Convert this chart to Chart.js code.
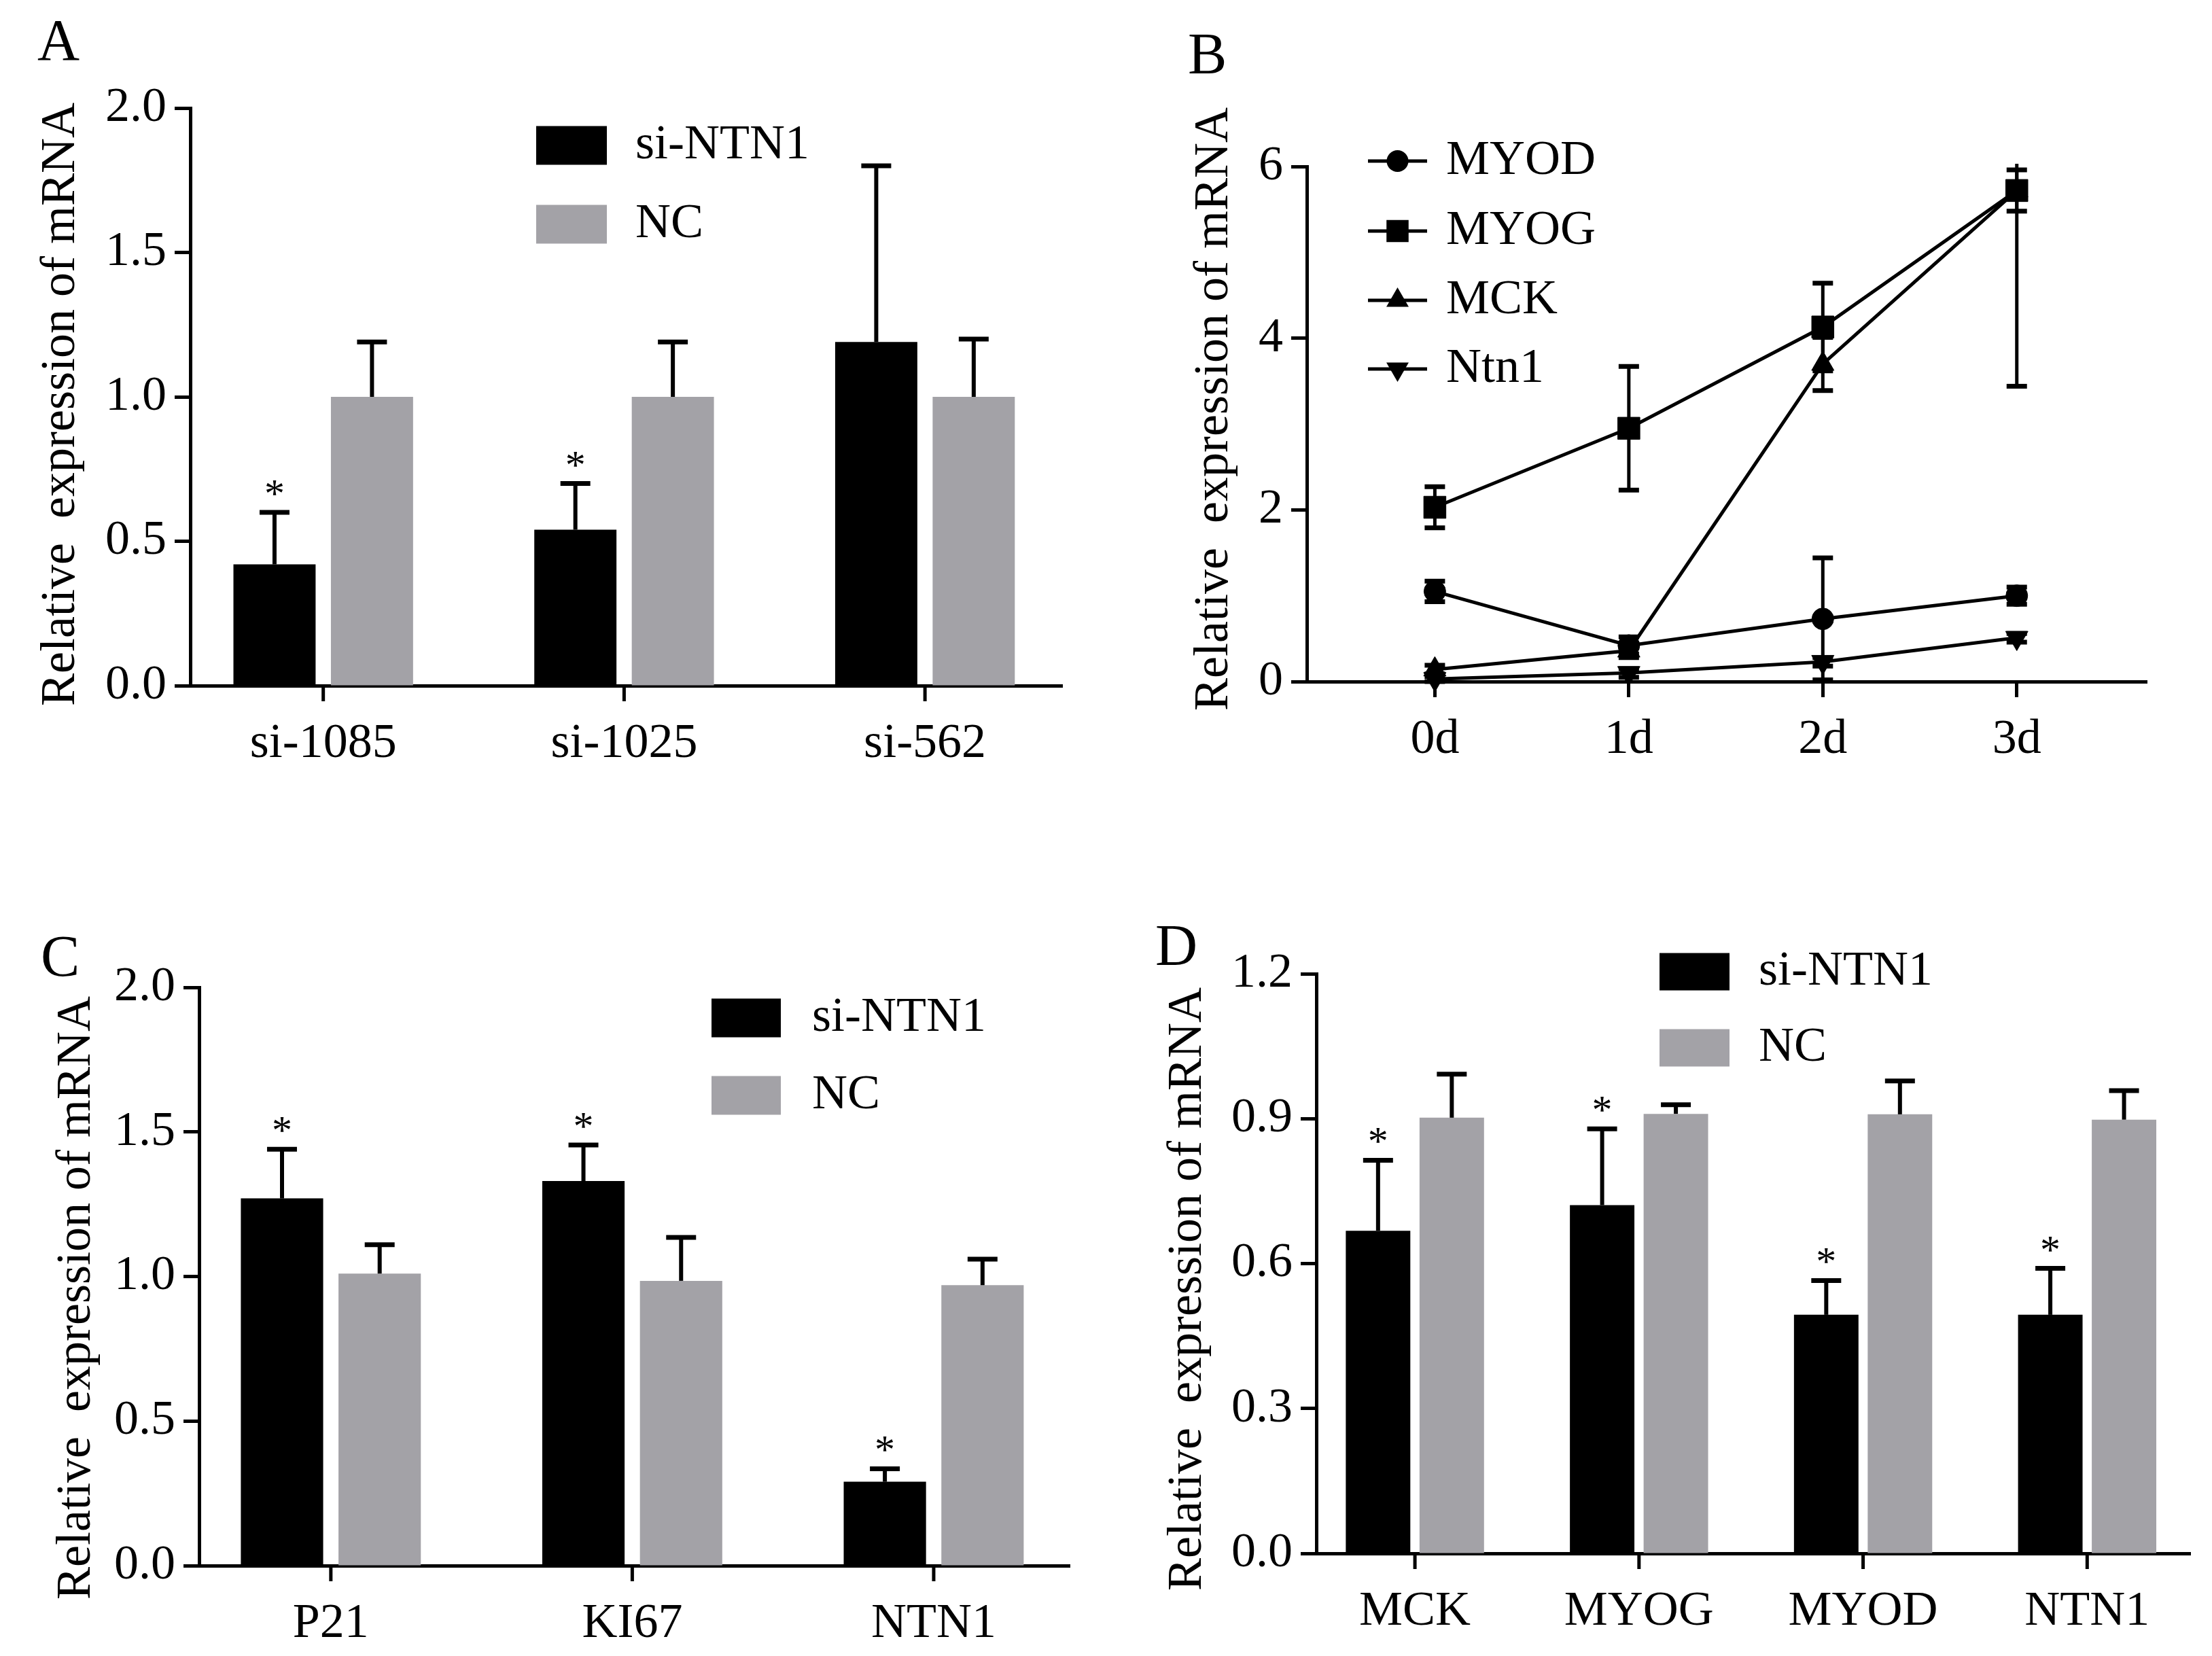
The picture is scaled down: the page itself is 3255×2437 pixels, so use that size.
<!DOCTYPE html>
<html>
<head>
<meta charset="utf-8">
<script src="https://cdn.jsdelivr.net/npm/chart.js@4.4.1/dist/chart.umd.min.js"></script>
<style>
  html, body { margin: 0; padding: 0; background: #fff; }
  body { width: 3255px; height: 2437px; position: relative; overflow: hidden;
         font-family: 'Liberation Serif', 'Times New Roman', serif; }
  .panel { position: absolute; }
  .tag { position: absolute; font-size: 86px; line-height: 86px; color: #000; }
</style>
</head>
<body>
<div class="tag" style="left:55px;top:16px">A</div>
<div class="tag" style="left:1748px;top:36px">B</div>
<div class="tag" style="left:60px;top:1364px">C</div>
<div class="tag" style="left:1700px;top:1348px">D</div>

<div class="panel" id="pA"><canvas id="chartA"></canvas></div>
<div class="panel" id="pB"><canvas id="chartB"></canvas></div>
<div class="panel" id="pC"><canvas id="chartC"></canvas></div>
<div class="panel" id="pD"><canvas id="chartD"></canvas></div>

<script>
// ---- data ----
const yTitle = 'Relative  expression of mRNA';

// A: siRNA screening
const groupsA = ['si-1085', 'si-1025', 'si-562'];
const siA = [0.42, 0.54, 1.19];
const siErrA = [0.18, 0.16, 0.61];
const ncA = [1.00, 1.00, 1.00];
const ncErrA = [0.19, 0.19, 0.20];
const starsA = [true, true, false];
const ticksA = [0, 0.5, 1.0, 1.5, 2.0];

// B: time course
const days = ['0d', '1d', '2d', '3d'];
const myod = [1.05, 0.42, 0.73, 1.00];
const myodErr = [0.12, 0.10, 0.71, 0.10];
const myog = [2.03, 2.95, 4.13, 5.72];
const myogErr = [0.24, 0.72, 0.51, 0.24];
const mck = [0.14, 0.36, 3.70, 5.72];
const mckErr = [0.05, 0.08, 0.31, 2.28];
const ntn1 = [0.03, 0.10, 0.23, 0.51];
const ntn1Err = [0.03, 0.05, 0.05, 0.05];
const ticksB = [0, 2, 4, 6];

// C: proliferation markers
const genesC = ['P21', 'KI67', 'NTN1'];
const siC = [1.27, 1.33, 0.29];
const siErrC = [0.17, 0.125, 0.045];
const ncC = [1.01, 0.985, 0.97];
const ncErrC = [0.10, 0.15, 0.09];
const starsC = [true, true, true];
const ticksC = [0, 0.5, 1.0, 1.5, 2.0];

// D: differentiation markers
const genesD = ['MCK', 'MYOG', 'MYOD', 'NTN1'];
const siD = [0.668, 0.721, 0.494, 0.494];
const siErrD = [0.146, 0.158, 0.071, 0.096];
const ncD = [0.902, 0.910, 0.909, 0.898];
const ncErrD = [0.090, 0.019, 0.069, 0.060];
const starsD = [true, true, true, true];
const ticksD = [0, 0.3, 0.6, 0.9, 1.2];

// ---- look ----
const BLACK = '#000000';
const GREY = '#a3a2a7';
const FONT = 72;
const SERIF = "'Liberation Serif', 'Times New Roman', serif";
const PAD_TOP = 90, PAD_RIGHT = 20;
const TICK_LEN = 23;

Chart.defaults.font.family = SERIF;
Chart.defaults.font.size = FONT;
Chart.defaults.color = BLACK;

// place a panel div so that the plot area lands on the given box
function placePanel(id, area, left, axisH) {
  const el = document.getElementById(id);
  const top = area.t - PAD_TOP;
  el.style.left = left + 'px';
  el.style.top = top + 'px';
  el.style.width = (area.r + PAD_RIGHT - left) + 'px';
  el.style.height = (area.b - area.t + PAD_TOP + axisH) + 'px';
  return { left, top, axisW: area.l - left, axisH };
}

function yValue(raw) {
  return typeof raw === 'object' ? raw.y : raw;
}

function pointPath(ctx, style, r, rot, x, y) {
  if (Chart.helpers && Chart.helpers.drawPoint) {
    Chart.helpers.drawPoint(ctx, { pointStyle: style, radius: r, rotation: rot || 0 }, x, y);
    return;
  }
  ctx.beginPath();
  if (style === 'circle') {
    ctx.arc(x, y, r, 0, Math.PI * 2);
  } else if (style === 'rect') {
    const s = r * Math.SQRT1_2;
    ctx.rect(x - s, y - s, 2 * s, 2 * s);
  } else {
    let a = (rot || 0) * Math.PI / 180;
    for (let k = 0; k < 3; k++) {
      const px = x + Math.sin(a) * r, py = y - Math.cos(a) * r;
      k ? ctx.lineTo(px, py) : ctx.moveTo(px, py);
      a += Math.PI * 2 / 3;
    }
    ctx.closePath();
  }
  ctx.fill();
  ctx.stroke();
}

// error bars: bars get the upper whisker only, points get both
function drawErrors(chart, opts) {
  const ctx = chart.ctx, ys = chart.scales.y, area = chart.chartArea;
  ctx.save();
  ctx.strokeStyle = BLACK;
  chart.data.datasets.forEach((ds, i) => {
    if (!ds.errors) return;
    chart.getDatasetMeta(i).data.forEach((el, j) => {
      const v = yValue(ds.data[j]);
      const e = ds.errors[j];
      const x = el.x;
      let yTop = ys.getPixelForValue(v + e);
      const clipped = yTop < area.top - 4;
      if (clipped) yTop = area.top - 4;
      const yBot = opts.both ? ys.getPixelForValue(Math.max(0, v - e)) : ys.getPixelForValue(v);
      const half = opts.cap / 2;
      ctx.lineWidth = opts.width;
      ctx.beginPath();
      ctx.moveTo(x, yBot);
      ctx.lineTo(x, yTop);
      ctx.stroke();
      ctx.lineWidth = opts.capWidth;
      ctx.beginPath();
      if (!clipped) { ctx.moveTo(x - half, yTop); ctx.lineTo(x + half, yTop); }
      if (opts.both) { ctx.moveTo(x - half, yBot); ctx.lineTo(x + half, yBot); }
      ctx.stroke();
    });
  });
  ctx.restore();
}

const errorBarPlugin = {
  id: 'errorBars',
  beforeDatasetsDraw(chart, args, opts) { if (opts.behind) drawErrors(chart, opts); },
  afterDatasetsDraw(chart, args, opts) {
    if (!opts.behind) drawErrors(chart, opts);
    // significance stars
    const ctx = chart.ctx, ys = chart.scales.y;
    chart.data.datasets.forEach((ds, i) => {
      if (!ds.stars) return;
      chart.getDatasetMeta(i).data.forEach((el, j) => {
        if (!ds.stars[j]) return;
        const yTop = ys.getPixelForValue(yValue(ds.data[j]) + ds.errors[j]);
        ctx.save();
        ctx.fillStyle = BLACK;
        ctx.font = '60px ' + SERIF;
        ctx.textAlign = 'center';
        ctx.textBaseline = 'alphabetic';
        ctx.fillText('*', el.x, yTop - 8);
        ctx.restore();
      });
    });
  }
};

// tick marks under each group centre of the bar charts
const groupTickPlugin = {
  id: 'groupTicks',
  afterDraw(chart, args, opts) {
    if (!opts || !opts.on) return;
    const ctx = chart.ctx, xs = chart.scales.x, bottom = chart.chartArea.bottom;
    ctx.save();
    ctx.strokeStyle = BLACK;
    ctx.lineWidth = 5;
    xs.ticks.forEach(t => {
      const x = xs.getPixelForValue(t.value);
      ctx.beginPath();
      ctx.moveTo(x, bottom);
      ctx.lineTo(x, bottom + TICK_LEN);
      ctx.stroke();
    });
    ctx.restore();
  }
};

// legend drawn inside the plot, GraphPad style
const panelLegendPlugin = {
  id: 'panelLegend',
  afterDraw(chart, args, opts) {
    if (!opts || !opts.rows) return;
    const ctx = chart.ctx;
    ctx.save();
    ctx.font = FONT + 'px ' + SERIF;
    ctx.textBaseline = 'middle';
    ctx.textAlign = 'left';
    chart.data.datasets.forEach((ds, i) => {
      const cy = opts.rows[i] - opts.origin.top;
      const x0 = opts.x - opts.origin.left;
      if (opts.kind === 'box') {
        ctx.fillStyle = ds.backgroundColor;
        ctx.fillRect(x0, cy - opts.boxH / 2, opts.boxW, opts.boxH);
      } else {
        ctx.strokeStyle = BLACK;
        ctx.lineWidth = ds.borderWidth;
        ctx.beginPath();
        ctx.moveTo(x0, cy);
        ctx.lineTo(x0 + opts.boxW, cy);
        ctx.stroke();
        ctx.fillStyle = BLACK;
        ctx.lineWidth = 1;
        pointPath(ctx, ds.pointStyle, ds.pointRadius, ds.pointRotation, x0 + opts.boxW / 2, cy);
      }
      ctx.fillStyle = BLACK;
      ctx.fillText(ds.label, opts.textX - opts.origin.left, cy);
    });
    ctx.restore();
  }
};

// vertical y title, placed where the figure has it (not always centred on the axis)
const sideTitlePlugin = {
  id: 'sideTitle',
  afterDraw(chart, args, opts) {
    if (!opts || !opts.text) return;
    const ctx = chart.ctx;
    ctx.save();
    ctx.translate(opts.x - opts.origin.left, opts.y - opts.origin.top);
    ctx.rotate(-Math.PI / 2);
    ctx.font = FONT + 'px ' + SERIF;
    ctx.fillStyle = BLACK;
    ctx.textAlign = 'center';
    ctx.textBaseline = 'middle';
    ctx.fillText(opts.text, 0, 0);
    ctx.restore();
  }
};

Chart.register(errorBarPlugin, groupTickPlugin, panelLegendPlugin, sideTitlePlugin);

function yAxis(tickVals, geo, decimals) {
  return {
    min: tickVals[0],
    max: tickVals[tickVals.length - 1],
    afterBuildTicks: ax => { ax.ticks = tickVals.map(v => ({ value: v })); },
    afterFit: ax => { ax.width = geo.axisW; },
    border: { display: true, color: BLACK, width: 5 },
    grid: { drawOnChartArea: false, drawTicks: true, tickLength: TICK_LEN, tickWidth: 5, tickColor: BLACK },
    ticks: { color: BLACK, padding: 12, font: { size: FONT }, callback: v => Number(v).toFixed(decimals) }
  };
}

// linear x axis with one tick per group, so the group spacing can match the figure
function xGroups(geo, labels, min, max, ownTicks) {
  return {
    type: 'linear',
    min: min,
    max: max,
    offset: false,
    afterBuildTicks: ax => { ax.ticks = labels.map((l, i) => ({ value: i })); },
    afterFit: ax => { ax.height = geo.axisH; },
    border: { display: true, color: BLACK, width: 5 },
    grid: ownTicks
      ? { display: false, drawTicks: false }
      : { offset: false, drawOnChartArea: false, drawTicks: true, tickLength: TICK_LEN, tickWidth: 5, tickColor: BLACK },
    ticks: { color: BLACK, padding: ownTicks ? 20 + TICK_LEN : 20, font: { size: FONT }, maxRotation: 0, autoSkip: false,
             callback: v => labels[v] }
  };
}

const asPoints = (vals) => vals.map((v, i) => ({ x: i, y: v }));

function barChart(canvasId, geo, labels, si, siErr, nc, ncErr, stars, tickVals, xRange, title, legend, catPct, barPct) {
  return new Chart(document.getElementById(canvasId), {
    type: 'bar',
    data: {
      datasets: [
        { label: 'si-NTN1', data: asPoints(si), errors: siErr, stars: stars, backgroundColor: BLACK, borderWidth: 0 },
        { label: 'NC', data: asPoints(nc), errors: ncErr, backgroundColor: GREY, borderWidth: 0 }
      ]
    },
    options: {
      responsive: true,
      maintainAspectRatio: false,
      animation: false,
      categoryPercentage: catPct,
      barPercentage: barPct,
      layout: { padding: { top: PAD_TOP, right: PAD_RIGHT, left: 0, bottom: 0 } },
      scales: { x: xGroups(geo, labels, xRange[0], xRange[1], true), y: yAxis(tickVals, geo, 1) },
      plugins: {
        legend: { display: false },
        tooltip: { enabled: false },
        errorBars: { behind: false, width: 6, capWidth: 7, cap: 44 },
        groupTicks: { on: true },
        panelLegend: Object.assign({ kind: 'box', origin: geo }, legend),
        sideTitle: { text: yTitle, x: title[0], y: title[1], origin: geo }
      }
    }
  });
}

// ---- panel A ----
const geoA = placePanel('pA', { l: 280, t: 159, r: 1563, b: 1009 }, 0, 140);
barChart('chartA', geoA, groupsA, siA, siErrA, ncA, ncErrA, starsA, ticksA, [-0.442, 2.456], [90, 595],
  { x: 789, textX: 935, rows: [214, 330], boxW: 104, boxH: 57 }, 0.648, 0.843);

// ---- panel B ----
const geoB = placePanel('pB', { l: 1923, t: 245, r: 3163, b: 1003 }, 1700, 140);
const lineSet = (label, vals, errs, style, radius, rot) => ({
  label: label, data: asPoints(vals), errors: errs,
  borderColor: BLACK, borderWidth: 5, tension: 0, clip: false,
  pointStyle: style, pointRadius: radius, pointRotation: rot,
  pointBackgroundColor: BLACK, pointBorderColor: BLACK, pointBorderWidth: 1
});
new Chart(document.getElementById('chartB'), {
  type: 'line',
  data: {
    datasets: [
      lineSet('MYOD', myod, myodErr, 'circle', 16, 0),
      lineSet('MYOG', myog, myogErr, 'rect', 23, 0),
      lineSet('MCK', mck, mckErr, 'triangle', 19, 0),
      lineSet('Ntn1', ntn1, ntn1Err, 'triangle', 19, 180)
    ]
  },
  options: {
    responsive: true,
    maintainAspectRatio: false,
    animation: false,
    layout: { padding: { top: PAD_TOP, right: PAD_RIGHT, left: 0, bottom: 0 } },
    scales: {
      x: xGroups(geoB, days, -0.66, 3.67, false),
      y: yAxis(ticksB, geoB, 0)
    },
    plugins: {
      legend: { display: false },
      tooltip: { enabled: false },
      errorBars: { behind: true, both: true, width: 5, capWidth: 7, cap: 30 },
      panelLegend: { kind: 'line', origin: geoB, x: 2013, textX: 2128, rows: [237, 340, 442, 543], boxW: 87 },
      sideTitle: { text: yTitle, x: 1787, y: 602, origin: geoB }
    }
  }
});

// ---- panel C ----
const geoC = placePanel('pC', { l: 293, t: 1453, r: 1574, b: 2304 }, 0, 130);
barChart('chartC', geoC, genesC, siC, siErrC, ncC, ncErrC, starsC, ticksC, [-0.437, 2.451], [113, 1910],
  { x: 1047, textX: 1195, rows: [1498, 1612], boxW: 102, boxH: 57 }, 0.648, 0.843);

// ---- panel D ----
const geoD = placePanel('pD', { l: 1937, t: 1433, r: 3223, b: 2286 }, 1700, 130);
barChart('chartD', geoD, genesD, siD, siErrD, ncD, ncErrD, starsD, ticksD, [-0.44, 3.46], [1748, 1897],
  { x: 2442, textX: 2588, rows: [1430, 1542], boxW: 103, boxH: 55 }, 0.658, 0.875);
</script>
</body>
</html>
